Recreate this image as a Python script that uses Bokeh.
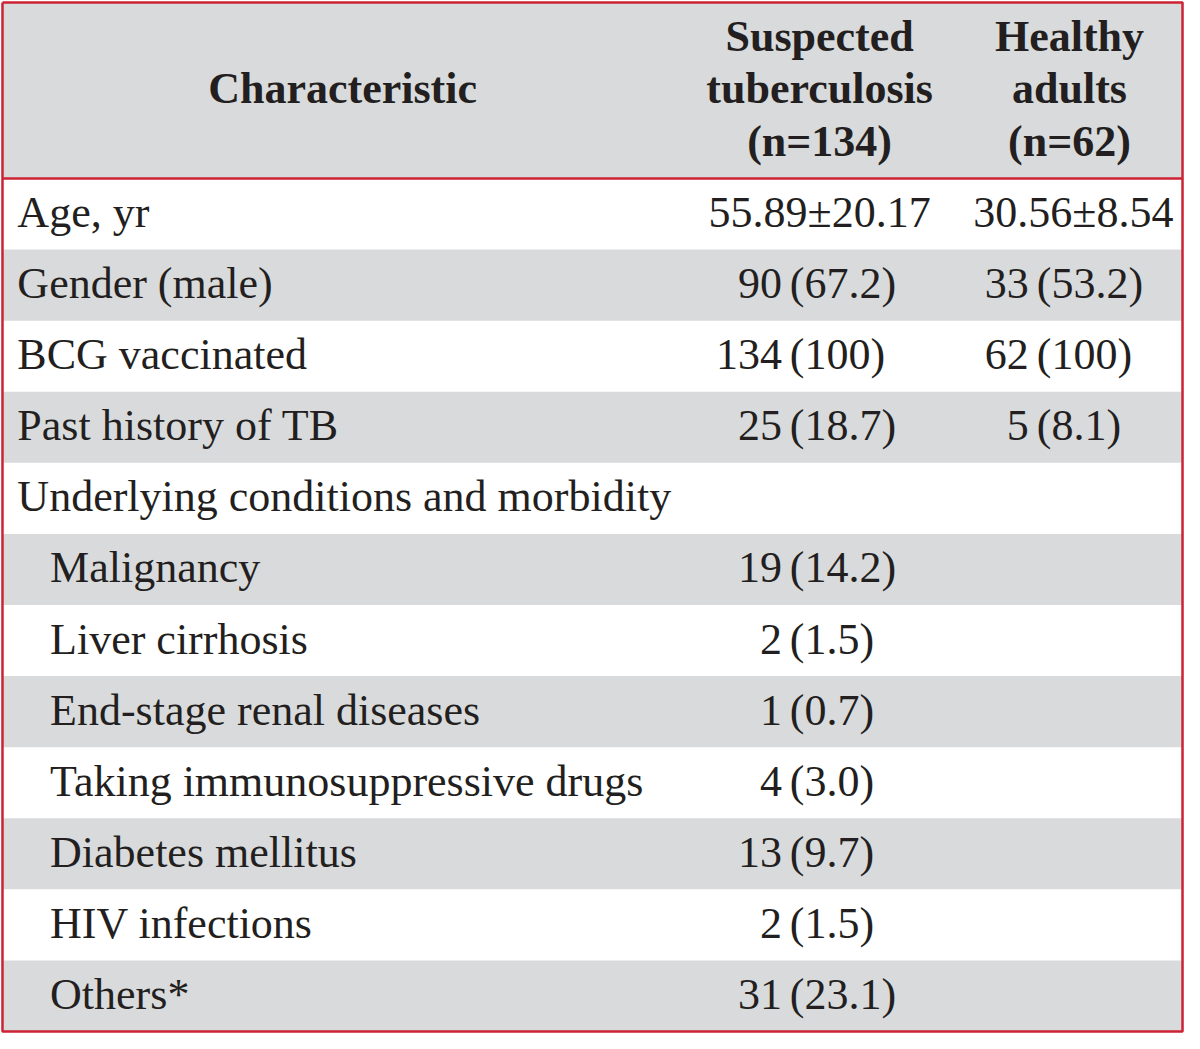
from bokeh.plotting import figure
from bokeh.models import Range1d
from bokeh.core.properties import value
from bokeh.embed import file_html
from bokeh.resources import INLINE

# ---------------- data ----------------
header_col1 = "Characteristic"
header_col2 = ["Suspected", "tuberculosis", "(n=134)"]
header_col3 = ["Healthy", "adults", "(n=62)"]

labels = ["Age, yr", "Gender (male)", "BCG vaccinated", "Past history of TB",
          "Underlying conditions and morbidity", "Malignancy", "Liver cirrhosis",
          "End-stage renal diseases", "Taking immunosuppressive drugs",
          "Diabetes mellitus", "HIV infections", "Others*"]
indented = [0, 0, 0, 0, 0, 1, 1, 1, 1, 1, 1, 1]

age_tb = "55.89\u00b120.17"
age_hc = "30.56\u00b18.54"

tb_n = [None, 90, 134, 25, None, 19, 2, 1, 4, 13, 2, 31]
tb_pct = [None, 67.2, 100, 18.7, None, 14.2, 1.5, 0.7, 3.0, 9.7, 1.5, 23.1]
hc_n = [None, 33, 62, 5, None, None, None, None, None, None, None, None]
hc_pct = [None, 53.2, 100, 8.1, None, None, None, None, None, None, None, None]

# ---------------- layout ----------------
W, H = 1184, 1033
X0, X1 = 3, 1193
Y0, HDR, Y1 = 5, 182.5, 1043
nrows = len(labels)
rh = (Y1 - HDR) / nrows

FONT = "Liberation Serif"
FS = "44px"
TXT = "#231f20"
GRAY = "#d9dadc"
RED = "#cc2233"
SHIFT = -17  # empirical correction of rendered baseline

p = figure(width=W, height=H, x_range=Range1d(1, 1195), y_range=Range1d(1045, 3),
           output_backend="svg", toolbar_location=None, min_border=0)
p.axis.visible = False
p.grid.visible = False
p.outline_line_color = None
p.background_fill_color = "white"
p.border_fill_color = "white"

# backgrounds
tops = [HDR + i * rh for i in range(nrows)]
gray_tops = [t for i, t in enumerate(tops) if i % 2 == 1]
p.quad(left=[X0] + [X0] * len(gray_tops), right=[X1] + [X1] * len(gray_tops),
       top=[Y0] + gray_tops, bottom=[HDR] + [t + rh for t in gray_tops],
       fill_color=GRAY, line_color=None)

# header text
hx2, hx3 = 827, 1079
hy_mid = (Y0 + HDR) / 2
cap = 15.5 + SHIFT
p.text(x=[346], y=[hy_mid + cap], text=[header_col1], text_align="center",
       text_baseline="alphabetic", text_font=value(FONT), text_font_size=value(FS),
       text_font_style="bold", text_color=TXT)
ls = 53
hy = [hy_mid + cap - ls, hy_mid + cap, hy_mid + cap + ls]
p.text(x=[hx2] * 3 + [hx3] * 3, y=hy + hy, text=header_col2 + header_col3,
       text_align="center", text_baseline="alphabetic", text_font=value(FONT),
       text_font_size=value(FS), text_font_style="bold", text_color=TXT)

# row labels
base = [t + rh / 2 + cap for t in tops]
lx = [51 if ind else 18 for ind in indented]
p.text(x=lx, y=base, text=labels, text_align="left", text_baseline="alphabetic",
       text_font=value(FONT), text_font_size=value(FS), text_color=TXT)

# age row
p.text(x=[827, 1083], y=[base[0], base[0]], text=[age_tb, age_hc], text_align="center",
       text_baseline="alphabetic", text_font=value(FONT), text_font_size=value(FS),
       text_color=TXT)


def fmt_pct(v):
    return "(%d)" % v if v == int(v) and v >= 100 else "(%.1f)" % v


def add_col(ns, pcts, xr, xl):
    ys = [base[i] for i, n in enumerate(ns) if n is not None]
    nt = [str(n) for n in ns if n is not None]
    pt = [fmt_pct(v) for v in pcts if v is not None]
    p.text(x=[xr] * len(nt), y=ys, text=nt, text_align="right",
           text_baseline="alphabetic", text_font=value(FONT),
           text_font_size=value(FS), text_color=TXT)
    p.text(x=[xl] * len(pt), y=ys, text=pt, text_align="left",
           text_baseline="alphabetic", text_font=value(FONT),
           text_font_size=value(FS), text_color=TXT)


add_col(tb_n, tb_pct, 789, 797)
add_col(hc_n, hc_pct, 1038, 1046)

# borders
p.line(x=[X0, X1, X1, X0, X0], y=[Y0, Y0, Y1, Y1, Y0], line_color=RED, line_width=2.5)
p.line(x=[X0, X1], y=[HDR, HDR], line_color=RED, line_width=2.5)

open("out.html", "w").write(file_html(p, INLINE))
